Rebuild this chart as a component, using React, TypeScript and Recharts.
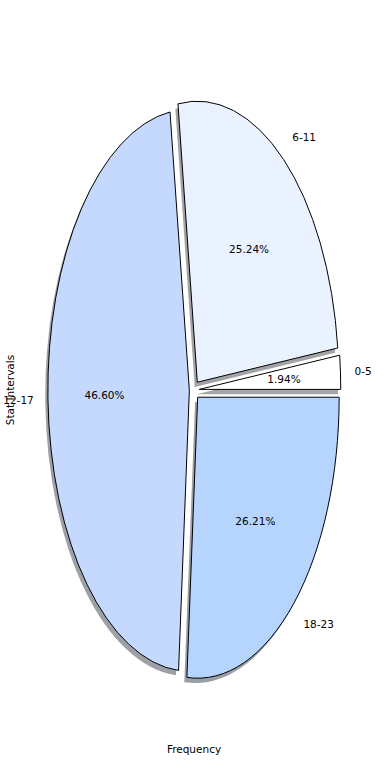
import React from 'react';
import { PieChart, Pie, Cell } from 'recharts';

const categories = ['0-5', '6-11', '12-17', '18-23'];
const counts = [2, 26, 48, 27];
const sliceColors = ['#ffffff', '#eaf1ff', '#c5d9ff', '#b5d5ff'];
const xAxisTitle = 'Frequency';
const yAxisTitle = 'Stat Intervals';

const data = categories.map((name, i) => ({ name, value: counts[i] }));

const W = 390;
const H = 780;
const CX = 194.3;
const CY = 390;
const RX = 141.5;
const RY = 281;
const SY = RY / RX;
const EXPLODE = 0.035;
const SHADOW_DX = -2.6;
const SHADOW_DY = 4.8;
const FONT = '"DejaVu Sans", sans-serif';
const FS = 10.5;

const total = counts.reduce((a, b) => a + b, 0);
const midAngles = (() => {
  let acc = 0;
  return counts.map((c) => {
    const s = acc;
    acc += (c / total) * 360;
    return (s + acc) / 2;
  });
})();

const offsetOf = (mid: number) => {
  const r = (mid * Math.PI) / 180;
  return { dx: EXPLODE * RX * Math.cos(r), dy: -EXPLODE * RY * Math.sin(r) };
};

const transformFor = (i: number, ex = 0, ey = 0) => {
  const { dx, dy } = offsetOf(midAngles[i]);
  return `matrix(1 0 0 ${SY} ${dx + ex} ${dy + ey + CY - SY * CY})`;
};

const shadowColor = (hex: string) => {
  const n = parseInt(hex.slice(1), 16);
  const r = Math.round(((n >> 16) & 255) * 0.3);
  const g = Math.round(((n >> 8) & 255) * 0.3);
  const b = Math.round((n & 255) * 0.3);
  return `rgb(${r},${g},${b})`;
};

const renderLabel = (props: any) => {
  const { midAngle, index, percent, name } = props;
  const r = (midAngle * Math.PI) / 180;
  const { dx, dy } = offsetOf(midAngle);
  const ox = CX + dx;
  const oy = CY + dy;
  const c = Math.cos(r);
  const s = Math.sin(r);
  const lx = ox + 1.1 * RX * c;
  const ly = oy - 1.1 * RY * s;
  const px = ox + 0.6 * RX * c;
  const py = oy - 0.6 * RY * s;
  return (
    <g key={`lbl-${index}`}>
      <text x={lx} y={ly} textAnchor={c > 0 ? 'start' : 'end'} dominantBaseline="central"
        fontFamily={FONT} fontSize={FS} fill="#000">{name}</text>
      <text x={px} y={py} textAnchor="middle" dominantBaseline="central"
        fontFamily={FONT} fontSize={FS} fill="#000">{`${(percent * 100).toFixed(2)}%`}</text>
    </g>
  );
};

export default function App() {
  return (
    <div style={{ position: 'absolute', left: 0, top: 0, width: W, height: H, background: '#fff' }}>
      <PieChart width={W} height={H} margin={{ top: 0, right: 0, bottom: 0, left: 0 }}>
        <Pie
          data={data}
          dataKey="value"
          nameKey="name"
          cx={CX}
          cy={CY}
          innerRadius={0}
          outerRadius={RX}
          startAngle={0}
          endAngle={360}
          stroke="none"
          label={false}
          labelLine={false}
          isAnimationActive={false}
        >
          {data.map((d, i) => (
            <Cell key={`s-${d.name}`} fill={shadowColor(sliceColors[i])} fillOpacity={0.5}
              stroke="none" transform={transformFor(i, SHADOW_DX, SHADOW_DY)} />
          ))}
        </Pie>
        <Pie
          data={data}
          dataKey="value"
          nameKey="name"
          cx={CX}
          cy={CY}
          innerRadius={0}
          outerRadius={RX}
          startAngle={0}
          endAngle={360}
          stroke="#000"
          strokeWidth={1}
          label={renderLabel}
          labelLine={false}
          isAnimationActive={false}
        >
          {data.map((d, i) => (
            <Cell key={`c-${d.name}`} fill={sliceColors[i]} stroke="#000" strokeWidth={1}
              vectorEffect="non-scaling-stroke" transform={transformFor(i)} />
          ))}
        </Pie>
        <text x={194} y={749} textAnchor="middle" dominantBaseline="central"
          fontFamily={FONT} fontSize={FS} fill="#000">{xAxisTitle}</text>
        <text x={10} y={390} textAnchor="middle" dominantBaseline="central" transform="rotate(-90 10 390)"
          fontFamily={FONT} fontSize={FS} fill="#000">{yAxisTitle}</text>
      </PieChart>
    </div>
  );
}
